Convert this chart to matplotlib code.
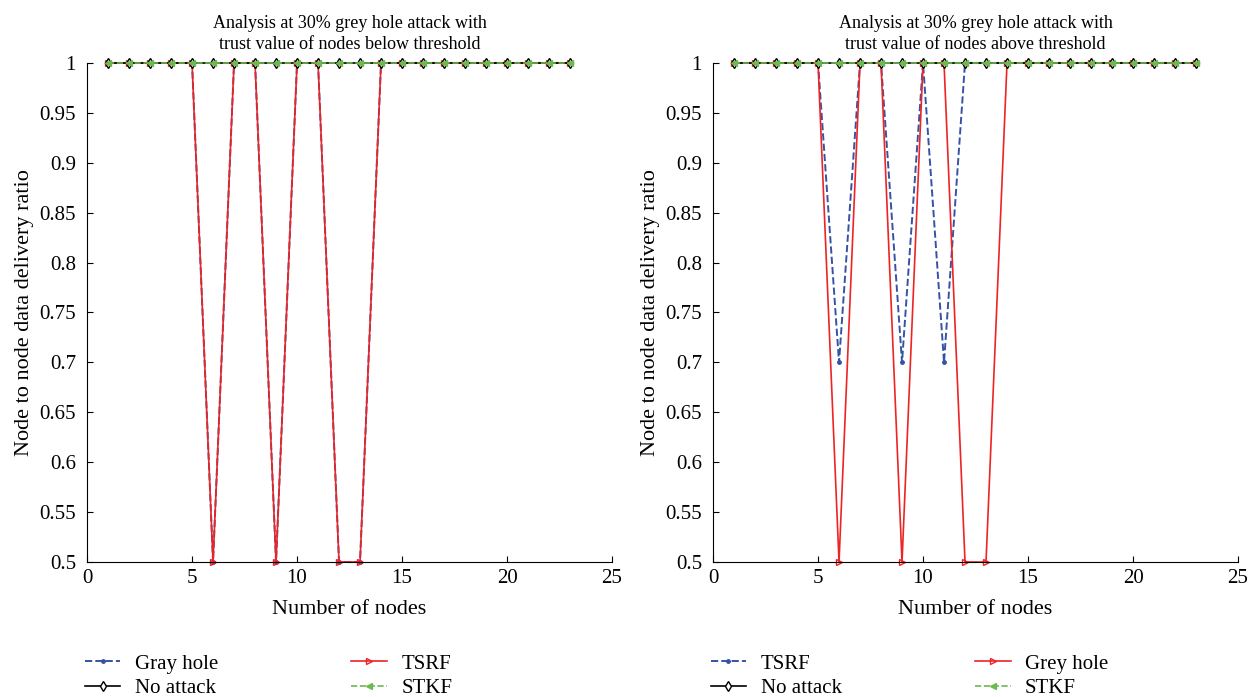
import matplotlib.pyplot as plt
import numpy as np

plt.rcParams['font.family'] = ['Liberation Serif', 'DejaVu Serif']

nodes = list(range(1, 24))

# left panel: trust below threshold
left_gray = [1, 1, 1, 1, 1, 0.5, 1, 1, 0.5, 1, 1, 0.5, 0.5, 1, 1, 1, 1, 1, 1, 1, 1, 1, 1]
left_tsrf = [1, 1, 1, 1, 1, 0.5, 1, 1, 0.5, 1, 1, 0.5, 0.5, 1, 1, 1, 1, 1, 1, 1, 1, 1, 1]
left_noattack = [1] * 23
left_stkf = [1] * 23

# right panel: trust above threshold
right_tsrf = [1, 1, 1, 1, 1, 0.7, 1, 1, 0.7, 1, 0.7, 1, 1, 1, 1, 1, 1, 1, 1, 1, 1, 1, 1]
right_grey = [1, 1, 1, 1, 1, 0.5, 1, 1, 0.5, 1, 1, 0.5, 0.5, 1, 1, 1, 1, 1, 1, 1, 1, 1, 1]
right_noattack = [1] * 23
right_stkf = [1] * 23

yticks = [0.5, 0.55, 0.6, 0.65, 0.7, 0.75, 0.8, 0.85, 0.9, 0.95, 1]
ytick_labels = ['0.5', '0.55', '0.6', '0.65', '0.7', '0.75', '0.8', '0.85', '0.9', '0.95', '1']

blue = '#3553a6'
red = '#ee2424'
green = '#6cb94f'

fig = plt.figure(figsize=(12.58, 6.97), dpi=100)
ax1 = fig.add_axes([0.0692, 0.1937, 0.4173, 0.716])
ax2 = fig.add_axes([0.5668, 0.1937, 0.4173, 0.716])


def style(ax, title):
    ax.set_xlim(0, 25)
    ax.set_ylim(0.5, 1)
    ax.set_xticks([0, 5, 10, 15, 20, 25])
    ax.set_yticks(yticks)
    ax.set_yticklabels(ytick_labels)
    ax.tick_params(direction='in', labelsize=15, length=4)
    ax.tick_params(axis='y', pad=8)
    ax.tick_params(axis='x', pad=5)
    ax.spines['top'].set_visible(False)
    ax.spines['right'].set_visible(False)
    ax.set_xlabel('Number of nodes', fontsize=16, labelpad=9)
    ax.set_ylabel('Node to node data delivery ratio', fontsize=16, labelpad=4)
    ax.set_title(title, fontsize=13, pad=10, linespacing=1.35)


def add_legend(ax, handles):
    ax.legend(handles=handles, ncol=2, frameon=False, fontsize=15,
              loc='upper left', bbox_to_anchor=(-0.04, -0.147), handlelength=1.7,
              handletextpad=0.7, columnspacing=6.4, labelspacing=0.22)


# left
l1, = ax1.plot(nodes, left_gray, '--', color=blue, marker='.', ms=5, lw=1.4, label='Gray hole', clip_on=False)
l3, = ax1.plot(nodes, left_tsrf, '-', color=red, marker='>', mfc='none', ms=5, lw=1.2, label='TSRF', clip_on=False)
l2, = ax1.plot(nodes, left_noattack, '-', color='black', marker='d', mfc='white', ms=5, lw=1.2, label='No attack', clip_on=False)
l4, = ax1.plot(nodes, left_stkf, '--', color=green, marker='<', ms=5, lw=1.2, label='STKF', clip_on=False)
style(ax1, 'Analysis at 30% grey hole attack with\ntrust value of nodes below threshold')
add_legend(ax1, [l1, l2, l3, l4])

# right
r1, = ax2.plot(nodes, right_tsrf, '--', color=blue, marker='.', ms=5, lw=1.4, label='TSRF', clip_on=False)
r3, = ax2.plot(nodes, right_grey, '-', color=red, marker='>', mfc='none', ms=5, lw=1.2, label='Grey hole', clip_on=False)
r2, = ax2.plot(nodes, right_noattack, '-', color='black', marker='d', mfc='white', ms=5, lw=1.2, label='No attack', clip_on=False)
r4, = ax2.plot(nodes, right_stkf, '--', color=green, marker='<', ms=5, lw=1.2, label='STKF', clip_on=False)
style(ax2, 'Analysis at 30% grey hole attack with\ntrust value of nodes above threshold')
add_legend(ax2, [r1, r2, r3, r4])

fig.savefig('out.png', dpi=100)
